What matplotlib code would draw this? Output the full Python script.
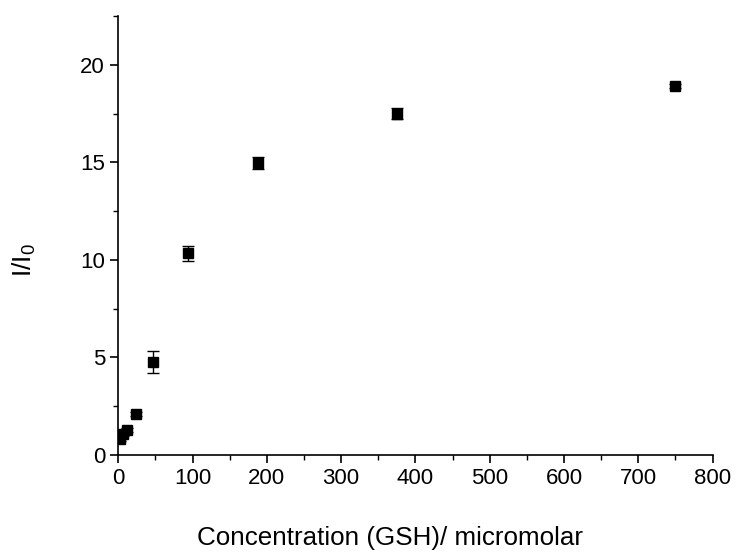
"""I/I0 response versus GSH concentration, square markers with error bars."""

import matplotlib

matplotlib.use("Agg")
import matplotlib.pyplot as plt
from matplotlib.ticker import MultipleLocator

# data
conc = [2.9, 5.9, 11.7, 23.4, 46.9, 93.8, 187.5, 375.0, 750.0]
ratio = [0.8, 1.05, 1.3, 2.1, 4.77, 10.33, 14.98, 17.5, 18.93]
ratio_err = [0.1, 0.1, 0.1, 0.1, 0.58, 0.38, 0.3, 0.3, 0.1]

X_TICKS = [0, 100, 200, 300, 400, 500, 600, 700, 800]
Y_TICKS = [0, 5, 10, 15, 20]

plt.rcParams["font.family"] = ["Liberation Sans", "DejaVu Sans"]
plt.rcParams["mathtext.fontset"] = "custom"
plt.rcParams["mathtext.rm"] = "Liberation Sans"
plt.rcParams["mathtext.it"] = "Liberation Sans"

fig = plt.figure(figsize=(7.39, 5.56), dpi=100, facecolor="white")
ax = fig.add_axes([0.160, 0.1817, 0.8043, 0.7895])

ax.errorbar(
    conc,
    ratio,
    yerr=ratio_err,
    fmt="s",
    color="black",
    markersize=7,
    ecolor="black",
    elinewidth=1.0,
    capsize=4,
    capthick=1.0,
)

ax.set_xlim(0, 800)
ax.set_ylim(0, 22.5)
ax.set_xticks(X_TICKS)
ax.set_yticks(Y_TICKS)
ax.xaxis.set_minor_locator(MultipleLocator(50))
ax.yaxis.set_minor_locator(MultipleLocator(2.5))

ax.spines["top"].set_visible(False)
ax.spines["right"].set_visible(False)
for side in ("left", "bottom"):
    ax.spines[side].set_linewidth(1.2)
    ax.spines[side].set_color("black")

ax.tick_params(axis="both", which="major", direction="out", length=6, width=1.2,
               labelsize=16)
ax.tick_params(axis="both", which="minor", direction="out", length=3.5, width=1.0)

ax.set_xlabel("Concentration (GSH)/ micromolar", fontsize=18.7, va="center")
ax.xaxis.set_label_coords(0.457, -0.189)
ax.set_ylabel(r"I/I$_\mathregular{0}$", fontsize=19, va="center")
ax.yaxis.set_label_coords(-0.158, 0.444)

fig.savefig("out.png", dpi=100, facecolor=fig.get_facecolor())
plt.close(fig)
